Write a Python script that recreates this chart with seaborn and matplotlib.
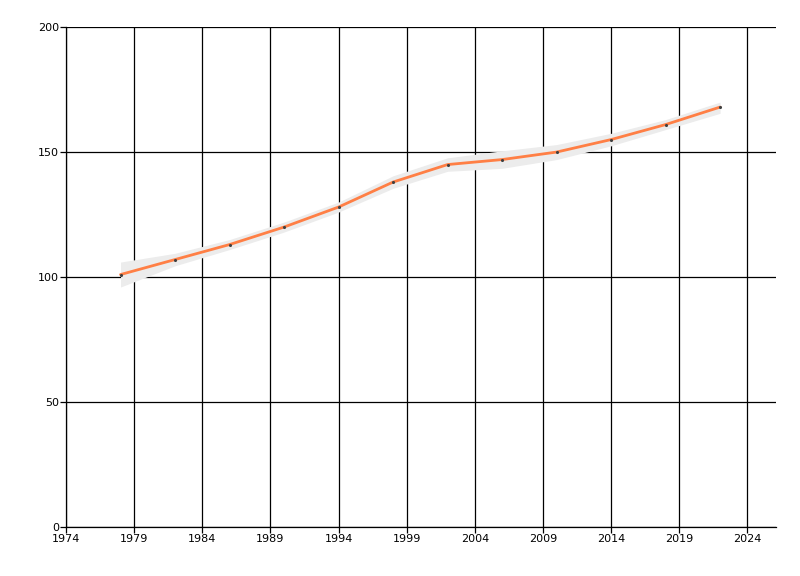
import matplotlib
matplotlib.use("Agg")
import matplotlib.pyplot as plt
import pandas as pd
import seaborn as sns

years = [1978, 1982, 1986, 1990, 1994, 1998, 2002, 2006, 2010, 2014, 2018, 2022]
values = [101, 107, 113, 120, 128, 138, 145, 147, 150, 155, 161, 168]
lower = [96, 104.5, 111, 118, 126, 135.5, 142.3, 143.5, 147, 152.5, 159, 165.5]
upper = [106, 109.5, 115, 122, 130, 140.5, 147.7, 150.5, 153, 157.5, 163, 170]

df = pd.DataFrame({"year": years, "value": values})

sns.set_style("white")
plt.rcParams["font.family"] = ["DejaVu Sans"]

fig = plt.figure(figsize=(8, 5.76), dpi=100)
ax = fig.add_axes([0.0825, 0.085, 0.8875, 0.868])

ax.fill_between(years, lower, upper, color="#ececec", linewidth=0, zorder=2)
sns.lineplot(data=df, x="year", y="value", ax=ax, color="#ff7f45",
             linewidth=2, zorder=3)
sns.scatterplot(data=df, x="year", y="value", ax=ax, color="#404040",
                s=5, linewidth=0, zorder=4)

ax.set_xlim(1974, 2026.1)
ax.set_ylim(0, 200)
ax.set_xticks(list(range(1974, 2025, 5)))
ax.set_yticks([0, 50, 100, 150, 200])
ax.grid(True, color="black", linewidth=0.9)
ax.set_axisbelow(True)
for s in ["top", "right"]:
    ax.spines[s].set_visible(False)
for s in ["left", "bottom"]:
    ax.spines[s].set_color("black")
    ax.spines[s].set_linewidth(0.9)
ax.tick_params(axis="both", direction="out", length=4, width=0.9,
               labelsize=8, colors="black", pad=1, left=True, bottom=True)
ax.set_xlabel("")
ax.set_ylabel("")

fig.savefig("out.png", dpi=100)
